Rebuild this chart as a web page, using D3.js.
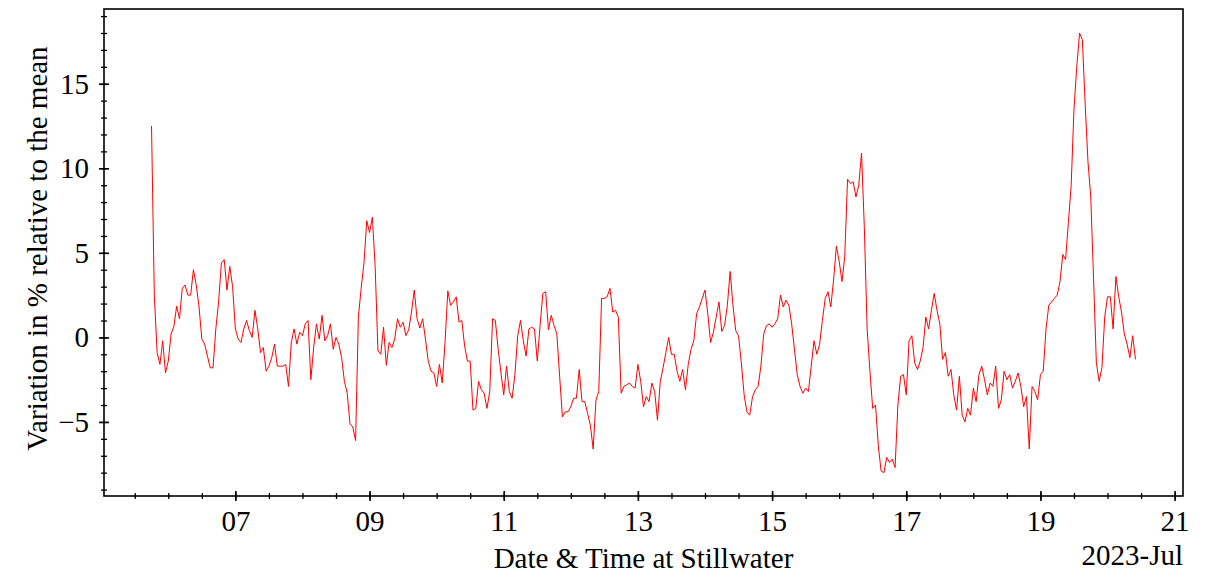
<!DOCTYPE html>
<html>
<head>
<meta charset="utf-8">
<script src="https://cdn.jsdelivr.net/npm/d3@7"></script>
<style>
  body { margin: 0; background: #fff; }
  svg text { font-family: "Liberation Serif", "Times New Roman", serif; }
</style>
</head>
<body>
<div id="wrapper"></div>
<script>
// hourly readings from 2023-07-05 18:00 (UTC) onward
const startTime = Date.UTC(2023, 6, 5, 18)
const variation = [
  12.5, 2.5, -0.9, -1.6, -0.2, -2.1, -1.4, 0.2, 0.65, 1.85,
  1.1, 2.9, 3.1, 2.5, 2.5, 4.0, 3.1, 1.8, -0.1, -0.4,
  -1.1, -1.8, -1.8, 0.5, 2.1, 4.4, 4.6, 2.8, 4.2, 3.0,
  0.5, -0.1, -0.3, 0.5, 1.0, 0.4, 0.0, 1.6, 0.5, -0.9,
  -0.6, -2.0, -1.7, -1.2, -0.4, -1.7, -1.7, -1.7, -1.6, -2.9,
  -0.3, 0.5, -0.4, 0.3, 0.1, 0.8, 1.0, -2.5, -0.6, 0.8,
  -0.1, 1.3, -0.2, 0.1, 0.8, -0.7, 0.0, -0.4, -1.2, -2.6,
  -3.3, -5.1, -5.3, -6.1, 1.2, 2.9, 4.4, 6.9, 6.2, 7.1,
  4.2, -0.8, -1.0, 0.6, -1.65, -0.3, -0.6, -0.1, 1.1, 0.6,
  0.9, 0.1, 0.45, 1.5, 2.8, 1.1, 0.55, 1.1, -0.1, -1.4,
  -2.0, -2.1, -2.9, -1.6, -2.7, -0.3, 2.75, 1.9, 2.1, 2.4,
  0.9, 1.0, -0.5, -1.4, -1.4, -4.3, -4.2, -2.6, -3.1, -3.3,
  -4.2, -3.2, 1.1, 1.0, -0.7, -2.1, -3.4, -1.7, -3.2, -3.6,
  -2.2, 0.1, 1.0, -0.2, -1.1, 0.5, 0.6, 0.5, -1.4, 0.7,
  2.6, 2.7, 0.45, 1.3, 0.7, 0.2, -2.3, -4.7, -4.4, -4.4,
  -4.1, -3.6, -3.6, -1.9, -3.8, -3.8, -4.5, -5.2, -6.6, -3.7,
  -3.2, 2.3, 2.3, 2.4, 2.9, 1.5, 1.6, 1.2, -3.3, -2.9,
  -2.8, -2.7, -2.9, -3.0, -1.6, -2.6, -4.1, -3.5, -3.8, -2.7,
  -3.2, -4.9, -2.6, -1.8, -0.9, 0.0, -1.0, -1.0, -2.0, -2.6,
  -1.9, -3.1, -1.6, -0.7, -0.2, 1.4, 1.8, 2.3, 2.8, 1.4,
  -0.3, 0.3, 1.2, 2.1, 0.35, 0.7, 1.9, 3.9, 1.9, 0.4,
  0.1, -1.5, -3.4, -4.4, -4.6, -3.5, -3.1, -2.9, -1.7, 0.2,
  0.7, 0.8, 0.6, 0.8, 1.1, 2.5, 1.8, 2.2, 1.9, 0.8,
  -0.7, -2.2, -2.9, -3.3, -3.0, -3.2, -1.7, -0.2, -1.0, -0.4,
  1.0, 2.3, 2.7, 1.8, 3.4, 5.4, 4.5, 3.3, 4.8, 9.35,
  9.1, 9.2, 8.3, 9.0, 10.9, 6.5, 0.5, -2.0, -4.2, -4.0,
  -6.4, -7.9, -8.0, -7.1, -7.4, -7.2, -7.7, -4.0, -2.3, -2.2,
  -3.4, -0.2, 0.1, -1.5, -1.9, -1.4, -0.6, 1.2, 0.5, 1.6,
  2.6, 1.6, 0.8, -1.3, -0.9, -2.3, -1.9, -3.4, -4.3, -2.3,
  -4.6, -5.0, -4.2, -4.6, -3.0, -3.8, -2.2, -1.7, -2.5, -3.4,
  -2.7, -2.9, -1.7, -4.2, -3.7, -2.0, -2.5, -2.2, -3.0, -2.6,
  -2.1, -2.9, -4.1, -3.5, -6.6, -2.9, -3.2, -3.7, -2.2, -2.0,
  0.5, 1.9, 2.1, 2.3, 2.5, 3.3, 4.9, 4.6, 6.8, 9.0,
  13.5, 16.0, 18.0, 17.6, 13.8, 10.4, 8.3, 3.5, -1.5, -2.6,
  -1.8, 1.2, 2.4, 2.4, 0.5, 3.6, 2.4, 1.5, 0.2, -0.4,
  -1.2, 0.1, -1.3
]

// tick labels
const yMajorTicks = [-5, 0, 5, 10, 15]
const xTickDays = [7, 9, 11, 13, 15, 17, 19, 21]

const data = variation.map((v, i) => ({
  time: new Date(startTime + i * 3600 * 1000),
  value: v
}))

const fontSize = "29px"

const dimensions = {
  width: 1214,
  height: 576,
  margin: { top: 9, right: 31, bottom: 80, left: 104 }
}
dimensions.boundedWidth = dimensions.width - dimensions.margin.left - dimensions.margin.right
dimensions.boundedHeight = dimensions.height - dimensions.margin.top - dimensions.margin.bottom

const wrapper = d3.select("#wrapper")
  .append("svg")
  .attr("width", dimensions.width)
  .attr("height", dimensions.height)

const bounds = wrapper.append("g")
  .attr("transform", `translate(${dimensions.margin.left},${dimensions.margin.top})`)

const xScale = d3.scaleUtc()
  .domain([new Date(Date.UTC(2023, 6, 5, 1)), new Date(Date.UTC(2023, 6, 21, 3))])
  .range([0, dimensions.boundedWidth])

const yScale = d3.scaleLinear()
  .domain([-9.38, 19.42])
  .range([dimensions.boundedHeight, 0])

// line
const lineGen = d3.line()
  .x(d => xScale(d.time))
  .y(d => yScale(d.value))

bounds.append("path")
  .datum(data)
  .attr("fill", "none")
  .attr("stroke", "#ff0000")
  .attr("stroke-width", 1)
  .attr("stroke-linejoin", "round")
  .attr("d", lineGen)

// frame
bounds.append("rect")
  .attr("width", dimensions.boundedWidth)
  .attr("height", dimensions.boundedHeight)
  .attr("fill", "none")
  .attr("stroke", "#000")
  .attr("stroke-width", 1.6)

// y axis, ticks cross the spine
const yMinor = bounds.append("g")
  .call(d3.axisLeft(yScale).tickValues(d3.range(-9, 20)).tickSize(3).tickFormat(""))
yMinor.selectAll(".tick line").attr("x1", 3).attr("stroke-width", 1.3)

const yMajor = bounds.append("g")
  .call(d3.axisLeft(yScale).tickValues(yMajorTicks).tickSize(5).tickPadding(10))
yMajor.selectAll(".tick line").attr("x1", 5).attr("stroke-width", 1.6)
yMajor.selectAll("text").style("font-size", fontSize).attr("fill", "#000")

// x axis
const xTicks = xTickDays.map(d => new Date(Date.UTC(2023, 6, d)))
const xMinorTicks = d3.utcHour.every(12).range(xScale.domain()[0], xScale.domain()[1])

const xMinor = bounds.append("g")
  .attr("transform", `translate(0,${dimensions.boundedHeight})`)
  .call(d3.axisBottom(xScale).tickValues(xMinorTicks).tickSize(3).tickFormat(""))
xMinor.selectAll(".tick line").attr("y1", -3).attr("stroke-width", 1.3)

const xMajor = bounds.append("g")
  .attr("transform", `translate(0,${dimensions.boundedHeight})`)
  .call(d3.axisBottom(xScale).tickValues(xTicks).tickSize(5).tickPadding(9)
    .tickFormat(d3.utcFormat("%d")))
xMajor.selectAll(".tick line").attr("y1", -5).attr("stroke-width", 1.6)
xMajor.selectAll("text").style("font-size", fontSize).attr("fill", "#000")

bounds.selectAll(".domain").remove()

// labels
bounds.append("text")
  .attr("x", dimensions.boundedWidth / 2)
  .attr("y", dimensions.boundedHeight + 72)
  .attr("text-anchor", "middle")
  .style("font-size", fontSize)
  .text("Date & Time at Stillwater")

bounds.append("text")
  .attr("x", dimensions.boundedWidth)
  .attr("y", dimensions.boundedHeight + 69)
  .attr("text-anchor", "end")
  .style("font-size", fontSize)
  .text("2023-Jul")

wrapper.append("text")
  .attr("transform", `translate(47,${dimensions.margin.top + dimensions.boundedHeight / 2 - 4}) rotate(-90)`)
  .attr("text-anchor", "middle")
  .style("font-size", fontSize)
  .text("Variation in % relative to the mean")
</script>
</body>
</html>
